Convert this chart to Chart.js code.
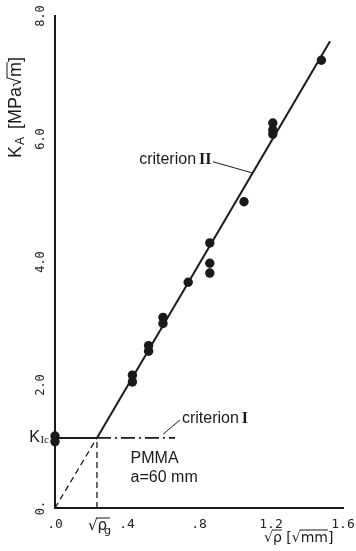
<!DOCTYPE html>
<html>
<head>
<meta charset="utf-8">
<style>
  html, body { margin: 0; padding: 0; background: #fff; }
  #chart { display: block; }
</style>
</head>
<body>
<canvas id="chart" width="356" height="551"></canvas>
<script src="https://cdn.jsdelivr.net/npm/chart.js"></script>
<script>
// measured points: sqrt(rho) [sqrt(mm)] and K_A [MPa sqrt(m)]
const rhoSqrt = [0, 0, 0.43, 0.43, 0.52, 0.52, 0.60, 0.60, 0.74, 0.86, 0.86, 0.86, 1.05, 1.21, 1.21, 1.21, 1.48];
const kA      = [1.17, 1.08, 2.16, 2.05, 2.64, 2.55, 3.10, 3.00, 3.67, 4.31, 3.98, 3.82, 4.98, 6.26, 6.15, 6.08, 7.28];

// criterion lines
const rhoG = 0.233;
const kIc = 1.14;
const critTwoX = [rhoG, 1.528];
const critTwoK = [kIc, 7.59];
const critOneEnd = 0.667;

// leader lines for the labels
const leadTwoX = [0.878, 1.094];
const leadTwoK = [5.63, 5.45];
const leadOneX = [0.60, 0.694];
const leadOneK = [1.20, 1.43];

// tick labels
const xTickText = { 0: '.0', 0.4: '.4', 0.8: '.8', 1.2: '1.2', 1.6: '1.6' };
const yTickText = { 0: '0.', 2: '2.0', 4: '4.0', 6: '6.0', 8: '8.0' };

const ink = '#1a1a1a';
const pts = (xs, ys) => xs.map((x, i) => ({ x: x, y: ys[i] }));

function line(data, width, dash) {
  return {
    data: data, showLine: true, pointRadius: 0, borderColor: ink,
    borderWidth: width, borderDash: dash || [], clip: false
  };
}

// text labels drawn on top
const notes = {
  id: 'notes',
  afterDraw(chart) {
    const c = chart.ctx, sx = chart.scales.x, sy = chart.scales.y;
    const px = (v) => sx.getPixelForValue(v), py = (v) => sy.getPixelForValue(v);
    c.save();
    c.fillStyle = ink;
    c.strokeStyle = ink;
    c.textBaseline = 'middle';

    // criterion II
    const iiW = 14;
    c.font = '16px "Liberation Sans"';
    c.textAlign = 'right';
    c.fillText('criterion', px(leadTwoX[0]) - iiW - 3, py(leadTwoK[0]) - 2);
    c.font = 'bold 16px "Liberation Serif"';
    c.textAlign = 'left';
    c.fillText('II', px(leadTwoX[0]) - iiW, py(leadTwoK[0]) - 2);

    // criterion I
    c.font = '16px "Liberation Sans"';
    const s1 = px(leadOneX[1]) + 2;
    c.fillText('criterion', s1, py(leadOneK[1]) - 1);
    const cw = c.measureText('criterion').width;
    c.font = 'bold 16px "Liberation Serif"';
    c.fillText('I', s1 + cw + 3, py(leadOneK[1]) - 1);

    // material
    c.font = '16px "Liberation Sans"';
    c.fillText('PMMA', px(0.42), py(0.81));
    c.fillText('a=60 mm', px(0.42), py(0.5));

    // K_Ic
    c.textAlign = 'right';
    c.font = '11px "Liberation Serif"';
    c.fillText('Ic', sx.left - 6, py(kIc) + 2);
    c.font = '16px "Liberation Sans"';
    c.fillText('K', sx.left - 15, py(kIc));

    // sqrt(rho_g) under the axis
    const gx = px(rhoG);
    const ty = sy.bottom + 18;
    c.textAlign = 'left';
    c.font = '15px "DejaVu Sans"';
    c.fillText('\u221A\u03C1', gx - 9, ty);
    c.font = '11px "DejaVu Sans"';
    c.fillText('g', gx + 7, ty + 5);
    c.lineWidth = 1;
    c.beginPath();
    c.moveTo(gx - 1, ty - 8); c.lineTo(gx + 13, ty - 8);
    c.stroke();

    // x axis title
    const xt = sy.bottom + 30;
    const x0 = 264;
    c.font = '14px "DejaVu Sans"';
    c.fillText('\u221A\u03C1 [\u221Amm]', x0, xt);
    const a = c.measureText('\u221A').width;
    const b = c.measureText('\u221A\u03C1').width;
    const d = c.measureText('\u221A\u03C1 [\u221A').width;
    const e = c.measureText('\u221A\u03C1 [\u221Amm').width;
    c.beginPath();
    c.moveTo(x0 + a - 1, xt - 8); c.lineTo(x0 + b, xt - 8);
    c.moveTo(x0 + d - 1, xt - 8); c.lineTo(x0 + e, xt - 8);
    c.stroke();

    // y axis title, rotated
    c.translate(16, 158);
    c.rotate(-Math.PI / 2);
    c.textAlign = 'left';
    c.font = '18px "Liberation Sans"';
    c.fillText('K', 0, 0);
    c.font = '12px "Liberation Sans"';
    c.fillText('A', 13, 5);
    c.font = '18px "Liberation Sans"';
    c.fillText('[MPa\u221Am]', 29, 0);
    const mw = c.measureText('[MPa\u221A').width;
    const rw = c.measureText('[MPa\u221Am').width;
    c.beginPath();
    c.moveTo(29 + mw - 1, -9); c.lineTo(29 + rw, -9);
    c.stroke();
    c.restore();
  }
};

new Chart(document.getElementById('chart'), {
  type: 'scatter',
  data: {
    datasets: [
      {
        data: pts(rhoSqrt, kA), pointRadius: 4.7, pointBackgroundColor: ink,
        pointBorderWidth: 0, showLine: false, clip: false
      },
      line(pts(critTwoX, critTwoK), 2),
      line([{ x: 0, y: 0 }, { x: rhoG, y: kIc }], 1.3, [6, 4]),
      line([{ x: 0, y: kIc }, { x: rhoG, y: kIc }], 2),
      line([{ x: rhoG, y: kIc }, { x: critOneEnd, y: kIc }], 1.6, [14, 4, 2, 4]),
      line([{ x: rhoG, y: 0 }, { x: rhoG, y: kIc }], 1.3, [6, 4]),
      line(pts(leadTwoX, leadTwoK), 1),
      line(pts(leadOneX, leadOneK), 1)
    ]
  },
  options: {
    responsive: false,
    animation: false,
    layout: { padding: { top: 16, right: 0 } },
    plugins: { legend: { display: false }, tooltip: { enabled: false } },
    scales: {
      x: {
        type: 'linear', min: 0, max: 1.6,
        grid: { display: false, drawTicks: false },
        border: { color: ink, width: 2 },
        ticks: {
          stepSize: 0.4, padding: 9, color: '#222',
          font: { family: '"DejaVu Sans Mono"', size: 13 },
          callback: (v) => xTickText[Math.round(v * 10) / 10] || ''
        },
        afterFit: (s) => { s.height = 43; s.paddingRight = 13; s.paddingLeft = 0; }
      },
      y: {
        type: 'linear', min: 0, max: 8,
        grid: { display: false, drawTicks: false },
        border: { color: ink, width: 2 },
        ticks: {
          stepSize: 2, padding: 3, color: '#222', minRotation: 90, maxRotation: 90,
          crossAlign: 'center',
          font: { family: '"DejaVu Sans Mono"', size: 12 },
          callback: (v) => yTickText[v] || ''
        },
        afterFit: (s) => { s.width = 55; }
      }
    }
  },
  plugins: [notes]
});
</script>
</body>
</html>
